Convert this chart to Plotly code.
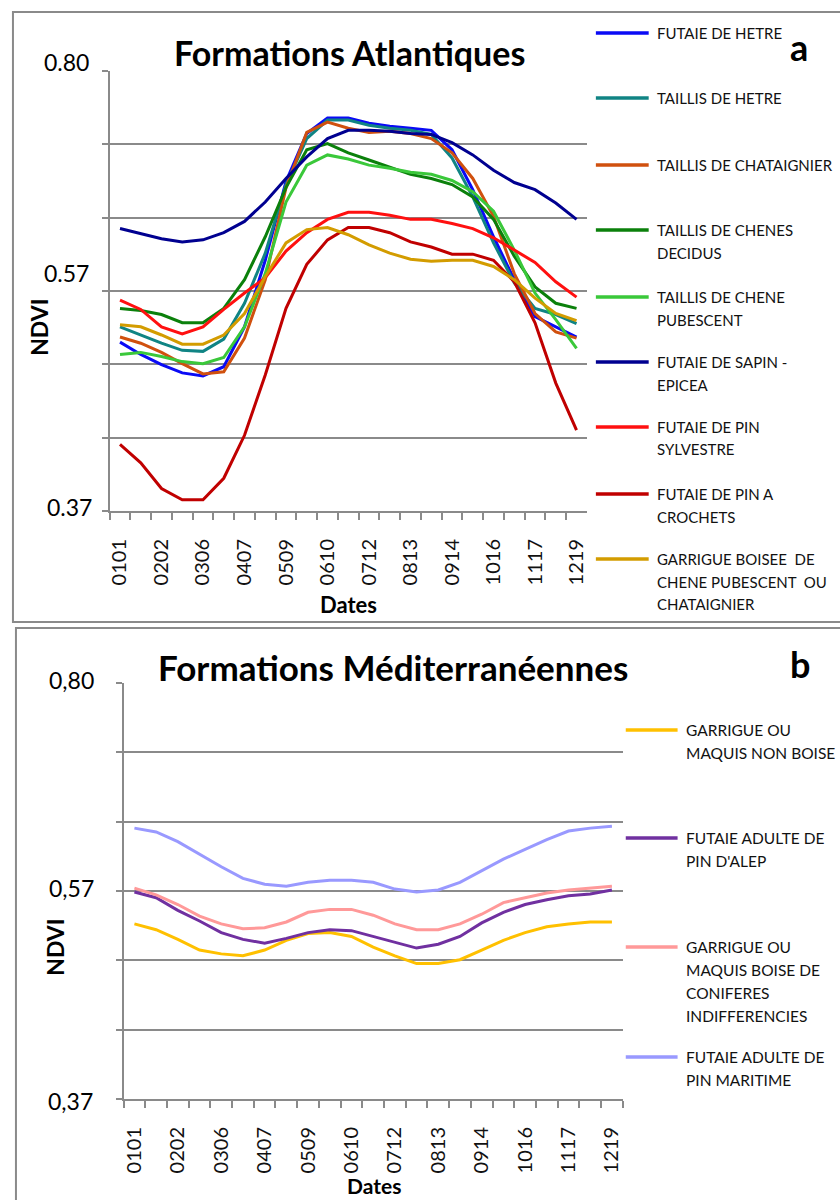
import plotly.graph_objects as go
import numpy as np

W, H = 840, 1200

dates = ["0101", "0117", "0202", "0218", "0306", "0322", "0407", "0423", "0509",
         "0525", "0610", "0626", "0712", "0728", "0813", "0829", "0914", "0930",
         "1016", "1101", "1117", "1203", "1219"]
date_labels = [d if i % 2 == 0 else "" for i, d in enumerate(dates)]

# ---------------- Panel a : Formations Atlantiques ----------------
futaie_hetre = [0.535, 0.523, 0.513, 0.505, 0.502, 0.511, 0.550, 0.615, 0.692, 0.739, 0.754, 0.754,
                0.749, 0.746, 0.744, 0.742, 0.723, 0.684, 0.638, 0.596, 0.560, 0.550, 0.540]
taillis_hetre = [0.550, 0.542, 0.534, 0.527, 0.526, 0.538, 0.573, 0.622, 0.689, 0.734, 0.752, 0.752,
                 0.747, 0.744, 0.742, 0.738, 0.715, 0.677, 0.632, 0.593, 0.568, 0.562, 0.553]
taillis_chataignier = [0.540, 0.534, 0.525, 0.514, 0.504, 0.506, 0.539, 0.596, 0.686, 0.740, 0.750, 0.744,
                       0.740, 0.741, 0.739, 0.734, 0.720, 0.695, 0.658, 0.602, 0.563, 0.545, 0.539]
taillis_chenes_decidus = [0.568, 0.566, 0.562, 0.554, 0.554, 0.568, 0.596, 0.638, 0.686, 0.723, 0.729, 0.720,
                          0.713, 0.706, 0.699, 0.695, 0.689, 0.677, 0.655, 0.619, 0.589, 0.573, 0.568]
taillis_chene_pubescent = [0.523, 0.525, 0.521, 0.516, 0.514, 0.520, 0.550, 0.602, 0.672, 0.708, 0.718, 0.714,
                           0.708, 0.705, 0.701, 0.699, 0.693, 0.682, 0.663, 0.625, 0.583, 0.557, 0.529]
futaie_sapin_epicea = [0.646, 0.641, 0.636, 0.633, 0.635, 0.642, 0.653, 0.672, 0.695, 0.716, 0.734, 0.742,
                       0.742, 0.741, 0.739, 0.738, 0.730, 0.718, 0.703, 0.691, 0.684, 0.671, 0.655]
futaie_pin_sylvestre = [0.576, 0.567, 0.550, 0.543, 0.550, 0.567, 0.583, 0.598, 0.624, 0.642, 0.655, 0.662,
                        0.662, 0.659, 0.655, 0.655, 0.651, 0.646, 0.637, 0.625, 0.613, 0.594, 0.579]
futaie_pin_crochets = [0.435, 0.417, 0.392, 0.381, 0.381, 0.402, 0.444, 0.503, 0.568, 0.611, 0.635, 0.647,
                       0.647, 0.642, 0.633, 0.628, 0.621, 0.621, 0.615, 0.594, 0.554, 0.495, 0.449]
garrigue_boisee_chene = [0.552, 0.550, 0.542, 0.533, 0.533, 0.542, 0.563, 0.599, 0.632, 0.645, 0.647, 0.640,
                         0.630, 0.622, 0.616, 0.614, 0.615, 0.615, 0.609, 0.596, 0.578, 0.563, 0.556]

series_a = [
    (["FUTAIE DE HETRE"], futaie_hetre, "#0A0AF5"),
    (["TAILLIS DE HETRE"], taillis_hetre, "#108484"),
    (["TAILLIS DE CHATAIGNIER"], taillis_chataignier, "#D0500E"),
    (["TAILLIS DE CHENES", "DECIDUS"], taillis_chenes_decidus, "#0B800B"),
    (["TAILLIS DE CHENE", "PUBESCENT"], taillis_chene_pubescent, "#3AC83A"),
    (["FUTAIE DE SAPIN -", "EPICEA"], futaie_sapin_epicea, "#000090"),
    (["FUTAIE DE PIN", "SYLVESTRE"], futaie_pin_sylvestre, "#FF1010"),
    (["FUTAIE DE PIN A", "CROCHETS"], futaie_pin_crochets, "#C00000"),
    (["GARRIGUE BOISEE  DE", "CHENE PUBESCENT  OU", "CHATAIGNIER"], garrigue_boisee_chene, "#D39C00"),
]

# ---------------- Panel b : Formations Méditerranéennes ----------------
garrigue_non_boise = [0.551, 0.545, 0.535, 0.524, 0.520, 0.518, 0.524, 0.534, 0.541, 0.542, 0.538, 0.527,
                      0.518, 0.510, 0.510, 0.514, 0.524, 0.534, 0.542, 0.548, 0.551, 0.553, 0.553]
pin_alep = [0.584, 0.578, 0.565, 0.554, 0.542, 0.535, 0.531, 0.536, 0.542, 0.545, 0.544, 0.538,
            0.532, 0.526, 0.530, 0.538, 0.552, 0.563, 0.571, 0.576, 0.580, 0.582, 0.586]
garrigue_coniferes = [0.588, 0.581, 0.571, 0.559, 0.551, 0.546, 0.547, 0.553, 0.563, 0.566, 0.566, 0.560,
                      0.551, 0.545, 0.545, 0.551, 0.561, 0.573, 0.578, 0.583, 0.586, 0.588, 0.590]
pin_maritime = [0.650, 0.646, 0.636, 0.623, 0.610, 0.598, 0.592, 0.590, 0.594, 0.596, 0.596, 0.594,
                0.587, 0.584, 0.586, 0.594, 0.606, 0.618, 0.628, 0.638, 0.647, 0.650, 0.652]

series_b = [
    (["GARRIGUE OU", "MAQUIS NON BOISE"], garrigue_non_boise, "#FFC000"),
    (["FUTAIE ADULTE DE", "PIN D'ALEP"], pin_alep, "#7030A0"),
    (["GARRIGUE OU", "MAQUIS BOISE DE", "CONIFERES", "INDIFFERENCIES"], garrigue_coniferes, "#FF9999"),
    (["FUTAIE ADULTE DE", "PIN MARITIME"], pin_maritime, "#9999FF"),
]

y_min, y_max = 0.37, 0.80
ytick_labels_a = ["0.37", "0.57", "0.80"]
ytick_labels_b = ["0,37", "0,57", "0,80"]

FONT = "Lato"
GRAY = "#8A8A8A"


def px(x):
    return x / W


def py(y):
    return 1 - y / H


fig = go.Figure()

for lines, vals, col in series_a:
    fig.add_trace(go.Scatter(x=dates, y=vals, mode="lines", name=" ".join(lines),
                             line=dict(color=col, width=3), xaxis="x", yaxis="y",
                             showlegend=False))
for lines, vals, col in series_b:
    fig.add_trace(go.Scatter(x=dates, y=vals, mode="lines", name=" ".join(lines),
                             line=dict(color=col, width=3), xaxis="x2", yaxis="y2",
                             showlegend=False))

grid_vals = list(np.linspace(y_min, y_max, 7))


def xax(domain, anchor):
    return dict(domain=domain, anchor=anchor, type="category", categoryorder="array",
                categoryarray=dates, tickmode="array", tickvals=dates, ticktext=date_labels,
                tickson="boundaries", ticks="outside", ticklen=7, tickwidth=1.5,
                tickcolor=GRAY, showline=True, linecolor=GRAY, linewidth=2,
                showgrid=False, tickangle=-90, ticklabelstandoff=18,
                tickfont=dict(family=FONT, size=20, color="#111"),
                range=[-0.5, len(dates) - 0.5], zeroline=False)


def yax(domain, anchor):
    return dict(domain=domain, anchor=anchor, range=[y_min, y_max], tickmode="array",
                tickvals=grid_vals, showticklabels=False, ticks="outside", ticklen=6,
                tickwidth=1.5, tickcolor=GRAY, showgrid=True, gridcolor=GRAY, gridwidth=1.5,
                showline=True, linecolor=GRAY, linewidth=2, zeroline=False)


annotations = []
shapes = []

# panel borders
shapes.append(dict(type="rect", xref="paper", yref="paper", x0=px(10), x1=px(860),
                   y0=py(622), y1=py(12), line=dict(color=GRAY, width=2), layer="below"))
shapes.append(dict(type="rect", xref="paper", yref="paper", x0=px(13), x1=px(860),
                   y0=py(1220), y1=py(628), line=dict(color=GRAY, width=2), layer="below"))
# title boxes hiding the top gridline
shapes.append(dict(type="rect", xref="paper", yref="paper", x0=px(148), x1=px(580),
                   y0=py(76), y1=py(66), fillcolor="white", line=dict(width=0), layer="above"))
shapes.append(dict(type="rect", xref="paper", yref="paper", x0=px(132), x1=px(630),
                   y0=py(688), y1=py(678), fillcolor="white", line=dict(width=0), layer="above"))


def text(x, y, s, size, bold=False, xanchor="center", angle=0, color="#000"):
    annotations.append(dict(xref="paper", yref="paper", x=px(x), y=py(y), text=s,
                            showarrow=False, xanchor=xanchor, yanchor="middle",
                            textangle=angle,
                            font=dict(family=FONT, size=size, color=color,
                                      weight="bold" if bold else "normal")))


# panel a texts
text(348, 52, "Formations Atlantiques", 34, bold=True)
text(799, 47, "a", 36, bold=True)
text(347, 604, "Dates", 22, bold=True)
text(36, 327, "NDVI", 23, bold=True, angle=-90)
text(88, 62, ytick_labels_a[2], 23, xanchor="right")
text(88, 273, ytick_labels_a[1], 23, xanchor="right")
text(91, 507, ytick_labels_a[0], 23, xanchor="right")

# panel b texts
text(391, 667, "Formations Méditerranéennes", 35, bold=True)
text(800, 664, "b", 36, bold=True)
text(372, 1185, "Dates", 21, bold=True)
text(52, 947, "NDVI", 23, bold=True, angle=-90)
text(93, 680, ytick_labels_b[2], 23, xanchor="right")
text(93, 888, ytick_labels_b[1], 23, xanchor="right")
text(92, 1101, ytick_labels_b[0], 23, xanchor="right")

# custom legends
legend_a_y = [33, 98, 165, 230, 297, 362, 427, 494, 559]
for (lines, vals, col), ly in zip(series_a, legend_a_y):
    shapes.append(dict(type="line", xref="paper", yref="paper", x0=px(595), x1=px(648),
                       y0=py(ly), y1=py(ly), line=dict(color=col, width=3.5)))
    for k, ln in enumerate(lines):
        text(654, ly + 22.5 * k, ln, 15, xanchor="left", color="#111")

legend_b_y = [730, 838, 947, 1057]
for (lines, vals, col), ly in zip(series_b, legend_b_y):
    shapes.append(dict(type="line", xref="paper", yref="paper", x0=px(625), x1=px(677),
                       y0=py(ly), y1=py(ly), line=dict(color=col, width=3.5)))
    for k, ln in enumerate(lines):
        text(683, ly + 23 * k, ln, 15.5, xanchor="left", color="#111")

fig.update_layout(
    width=W, height=H, margin=dict(l=0, r=0, t=0, b=0),
    paper_bgcolor="white", plot_bgcolor="white", showlegend=False,
    xaxis=xax([px(107), px(586)], "y"),
    yaxis=yax([py(511), py(71)], "x"),
    xaxis2=xax([px(121), px(622)], "y2"),
    yaxis2=yax([py(1099), py(683)], "x2"),
    annotations=annotations, shapes=shapes,
    font=dict(family=FONT),
)

fig.write_html("out.html", config={"displayModeBar": False},
               post_script="document.body.style.margin='0';document.body.style.padding='0';")
